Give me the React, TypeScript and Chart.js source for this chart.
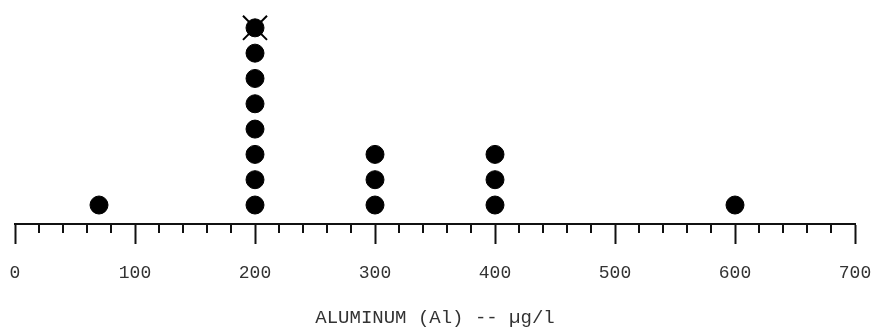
import React, { useEffect, useRef } from "react";
import { Chart, registerables } from "chart.js";

Chart.register(...registerables);

// Aluminum concentrations (µg/l) and the number of samples at each value
const concentrations = [70, 200, 300, 400, 600];
const sampleCounts = [1, 8, 3, 3, 1];
// Flagged (crossed-out) observation
const flaggedConcentration = 200;
const flaggedLevel = 8;
// Axis ticks
const majorTicks = [0, 100, 200, 300, 400, 500, 600, 700];
const minorStep = 20;
const axisTitle = "ALUMINUM (Al) -- µg/l";

const FONT = "'Liberation Mono', 'DejaVu Sans Mono', monospace";

const minorTicksPlugin = {
  id: "minorTicks",
  afterDraw(chart: any) {
    const xs = chart.scales.x;
    const ctx = chart.ctx;
    const y0 = chart.chartArea.bottom;
    ctx.save();
    ctx.strokeStyle = "#111";
    ctx.lineWidth = 2;
    const min = majorTicks[0];
    const max = majorTicks[majorTicks.length - 1];
    for (let v = min + minorStep; v < max; v += minorStep) {
      if (majorTicks.includes(v)) continue;
      const x = xs.getPixelForValue(v);
      ctx.beginPath();
      ctx.moveTo(x, y0);
      ctx.lineTo(x, y0 + 9);
      ctx.stroke();
    }
    ctx.restore();
  },
};

export default function App() {
  const ref = useRef<HTMLCanvasElement>(null);
  useEffect(() => {
    if (!ref.current) return;
    const points: { x: number; y: number }[] = [];
    concentrations.forEach((c, i) => {
      for (let k = 1; k <= sampleCounts[i]; k++) points.push({ x: c, y: k });
    });
    const chart = new Chart(ref.current, {
      type: "scatter",
      data: {
        datasets: [
          {
            data: points,
            pointRadius: 9,
            pointHoverRadius: 9,
            backgroundColor: "#000",
            borderColor: "#000",
            borderWidth: 1,
            clip: false as any,
          },
          {
            data: [{ x: flaggedConcentration, y: flaggedLevel }],
            pointStyle: "crossRot",
            pointRadius: 17,
            pointHoverRadius: 17,
            borderColor: "#000",
            borderWidth: 2,
            backgroundColor: "#000",
            clip: false as any,
          },
        ],
      },
      options: {
        animation: false,
        responsive: true,
        maintainAspectRatio: false,
        layout: { autoPadding: false, padding: { left: 15, right: 16, top: 0, bottom: 0 } },
        plugins: { legend: { display: false }, tooltip: { enabled: false } },
        scales: {
          x: {
            type: "linear",
            min: majorTicks[0],
            max: majorTicks[majorTicks.length - 1],
            afterBuildTicks: (scale: any) => {
              scale.ticks = majorTicks.map((v) => ({ value: v }));
            },
            afterFit: (scale: any) => {
              scale.paddingLeft = 0;
              scale.paddingRight = 0;
              scale.height = 107;
            },
            ticks: {
              color: "#333",
              padding: 18,
              maxRotation: 0,
              font: { family: FONT, size: 18 },
            },
            grid: {
              display: true,
              drawOnChartArea: false,
              drawTicks: true,
              tickLength: 20,
              tickWidth: 2,
              tickColor: "#111",
            },
            border: { display: true, color: "#111", width: 2 },
            title: {
              display: true,
              text: axisTitle,
              color: "#333",
              padding: { top: 4, bottom: 2 },
              font: { family: FONT, size: 19 },
            },
          },
          y: {
            type: "linear",
            display: false,
            min: 0.25,
            max: 9.1,
          },
        },
      },
      plugins: [minorTicksPlugin],
    });
    return () => chart.destroy();
  }, []);
  return (
    <div style={{ position: "absolute", left: 0, top: 0, width: 871, height: 331, background: "#fff" }}>
      <canvas ref={ref} />
    </div>
  );
}
